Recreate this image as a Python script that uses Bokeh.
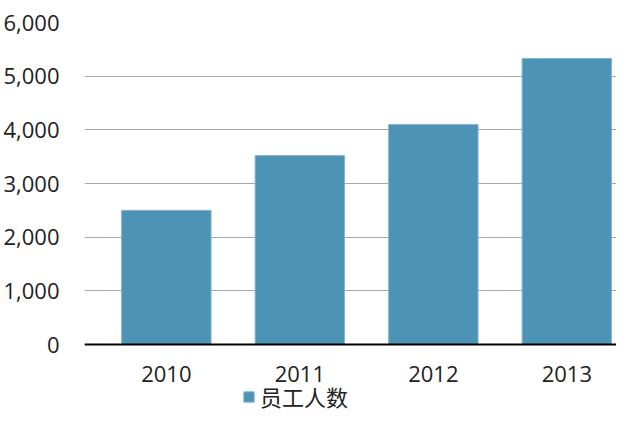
from bokeh.plotting import figure
from bokeh.models import (Legend, LegendItem, FixedTicker, NumeralTickFormatter,
                          Range1d, ColumnDataSource)
from bokeh.embed import file_html
from bokeh.resources import INLINE

years = ["2010", "2011", "2012", "2013"]
employees = [2500, 3520, 4100, 5330]
y_ticks = [0, 1000, 2000, 3000, 4000, 5000, 6000]
legend_label = "员工人数"

x_pos = list(range(len(years)))
src = ColumnDataSource(dict(x=x_pos, top=employees))

p = figure(width=616, height=414, output_backend="svg", toolbar_location=None,
           x_range=Range1d(-0.613, 3.372), y_range=Range1d(-1304, 6000),
           min_border_top=22, min_border_right=0, min_border_left=74,
           min_border_bottom=0)

r = p.vbar(x="x", top="top", width=0.67, source=src,
           fill_color="#4d93b6", line_color="#86b6cd", line_width=1)

p.outline_line_color = None
p.xgrid.grid_line_color = None
p.ygrid.grid_line_color = "#a8a8a8"
p.ygrid.grid_line_width = 1
p.ygrid.ticker = FixedTicker(ticks=y_ticks)

p.yaxis.ticker = FixedTicker(ticks=y_ticks)
p.yaxis.formatter = NumeralTickFormatter(format="0,0")
p.yaxis.axis_line_color = None
p.yaxis.major_tick_line_color = None
p.yaxis.minor_tick_line_color = None
p.yaxis.major_label_standoff = 19
p.yaxis.major_label_text_font = "Open Sans"
p.yaxis.major_label_text_font_size = "22px"
p.yaxis.major_label_text_color = "#222222"

p.xaxis.fixed_location = 0
p.xaxis.ticker = FixedTicker(ticks=x_pos)
p.xaxis.major_label_overrides = {i: y for i, y in zip(x_pos, years)}
p.xaxis.axis_line_color = "black"
p.xaxis.axis_line_width = 2
p.xaxis.major_tick_line_color = None
p.xaxis.minor_tick_line_color = None
p.xaxis.major_label_standoff = 15
p.xaxis.major_label_text_font = "Open Sans"
p.xaxis.major_label_text_font_size = "22px"
p.xaxis.major_label_text_color = "#222222"

legend = Legend(items=[LegendItem(label=legend_label, renderers=[r])],
                location=(158, 2), orientation="horizontal",
                border_line_color=None, background_fill_alpha=0,
                label_text_font="Noto Sans CJK SC", label_text_font_size="22px",
                label_text_color="#222222",
                glyph_width=13, glyph_height=13, padding=2, margin=0,
                label_standoff=5)
p.add_layout(legend, "center")

open("out.html", "w").write(file_html(p, INLINE))
